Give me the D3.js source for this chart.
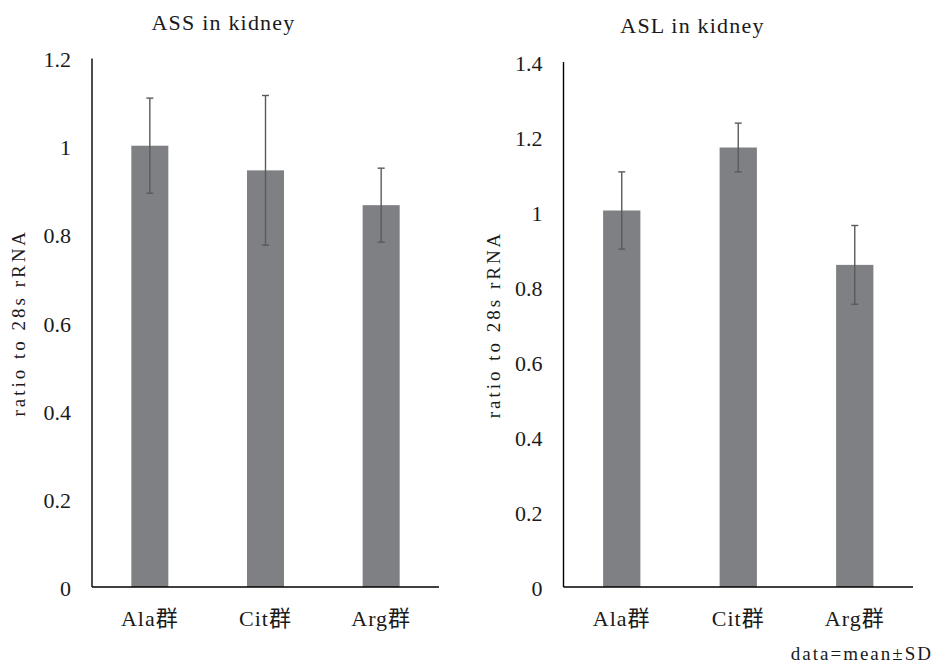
<!DOCTYPE html>
<html>
<head>
<meta charset="utf-8">
<script src="https://cdn.jsdelivr.net/npm/d3@7"></script>
<style>
  body { margin: 0; background: #fff; }
</style>
</head>
<body>
<div id="chart"></div>
<script>
// data (mean and SD, ratio to 28s rRNA)
var categories = ["Ala群", "Cit群", "Arg群"];
var assMean = [1.002, 0.946, 0.867];
var assSD = [0.108, 0.170, 0.084];
var aslMean = [1.004, 1.172, 0.859];
var aslSD = [0.103, 0.065, 0.105];
var assTicks = [0, 0.2, 0.4, 0.6, 0.8, 1, 1.2];
var aslTicks = [0, 0.2, 0.4, 0.6, 0.8, 1, 1.2, 1.4];

var width = 938,
  height = 666,
  font = "'Liberation Serif', 'DejaVu Serif', 'Noto Sans CJK JP', serif",
  barColor = "#7f8084",
  errColor = "#5a5a5c";

var svg = d3.select("#chart")
  .append("svg")
  .attr("width", width)
  .attr("height", height)
  .attr("font-family", font)
  .attr("fill", "#1a1a1a");

function fmt(v) { return String(+v.toFixed(1)); }

function drawPanel(o) {
  var g = svg.append("g");

  var x = d3.scaleBand()
    .domain(categories)
    .range([o.left, o.right])
    .paddingInner(0.68)
    .paddingOuter(0.34);

  var y = d3.scaleLinear()
    .domain([0, o.max])
    .range([o.bottom, o.top]);

  // bars
  g.selectAll("rect.bar")
    .data(o.mean)
    .enter()
    .append("rect")
    .attr("class", "bar")
    .attr("x", function(d, i) { return x(categories[i]); })
    .attr("width", x.bandwidth())
    .attr("y", function(d) { return y(d); })
    .attr("height", function(d) { return y(0) - y(d); })
    .attr("fill", barColor);

  // error bars
  var err = g.selectAll("g.err")
    .data(o.mean)
    .enter()
    .append("g")
    .attr("class", "err")
    .attr("stroke", errColor)
    .attr("stroke-width", 1.4);

  var cx = function(i) { return x(categories[i]) + x.bandwidth() / 2; };

  err.append("line")
    .attr("x1", function(d, i) { return cx(i); })
    .attr("x2", function(d, i) { return cx(i); })
    .attr("y1", function(d, i) { return y(d + o.sd[i]); })
    .attr("y2", function(d, i) { return y(d - o.sd[i]); });

  [1, -1].forEach(function(s) {
    err.append("line")
      .attr("x1", function(d, i) { return cx(i) - 3.5; })
      .attr("x2", function(d, i) { return cx(i) + 3.5; })
      .attr("y1", function(d, i) { return y(d + s * o.sd[i]); })
      .attr("y2", function(d, i) { return y(d + s * o.sd[i]); });
  });

  // axes
  g.append("line")
    .attr("x1", o.left).attr("x2", o.left)
    .attr("y1", y(o.max)).attr("y2", y(0))
    .attr("stroke", "#000").attr("stroke-width", 1.4);

  g.append("line")
    .attr("x1", o.left).attr("x2", o.right)
    .attr("y1", y(0)).attr("y2", y(0))
    .attr("stroke", "#000").attr("stroke-width", 1.4);

  // tick labels
  g.selectAll("text.ytick")
    .data(o.ticks)
    .enter()
    .append("text")
    .attr("class", "ytick")
    .attr("x", o.left - 21)
    .attr("y", function(d) { return y(d); })
    .attr("dy", "0.4em")
    .attr("text-anchor", "end")
    .attr("font-size", 22)
    .text(fmt);

  g.selectAll("text.xtick")
    .data(categories)
    .enter()
    .append("text")
    .attr("class", "xtick")
    .attr("x", function(d) { return x(d) + x.bandwidth() / 2; })
    .attr("y", y(0) + 39)
    .attr("text-anchor", "middle")
    .attr("font-size", 22)
    .attr("letter-spacing", 1)
    .text(function(d) { return d; });

  // y axis label
  g.append("text")
    .attr("transform", "translate(" + o.labelX + "," + ((y(0) + y(o.max)) / 2) + ") rotate(-90)")
    .attr("text-anchor", "middle")
    .attr("font-size", 19)
    .attr("letter-spacing", 3)
    .text("ratio to 28s rRNA");

  // title
  g.append("text")
    .attr("x", o.titleX)
    .attr("y", o.titleY)
    .attr("text-anchor", "middle")
    .attr("font-size", 22)
    .attr("letter-spacing", 1.2)
    .text(o.title);
}

drawPanel({
  title: "ASS in kidney", mean: assMean, sd: assSD, ticks: assTicks, max: 1.2,
  left: 92, right: 439, top: 58.5, bottom: 587,
  labelX: 25, titleX: 223.5, titleY: 29.5
});

drawPanel({
  title: "ASL in kidney", mean: aslMean, sd: aslSD, ticks: aslTicks, max: 1.4,
  left: 563.5, right: 913, top: 62, bottom: 587,
  labelX: 500, titleX: 692.5, titleY: 32.5
});

svg.append("text")
  .attr("x", 933)
  .attr("y", 660)
  .attr("text-anchor", "end")
  .attr("font-size", 19)
  .attr("letter-spacing", 2)
  .text("data=mean±SD");
</script>
</body>
</html>
